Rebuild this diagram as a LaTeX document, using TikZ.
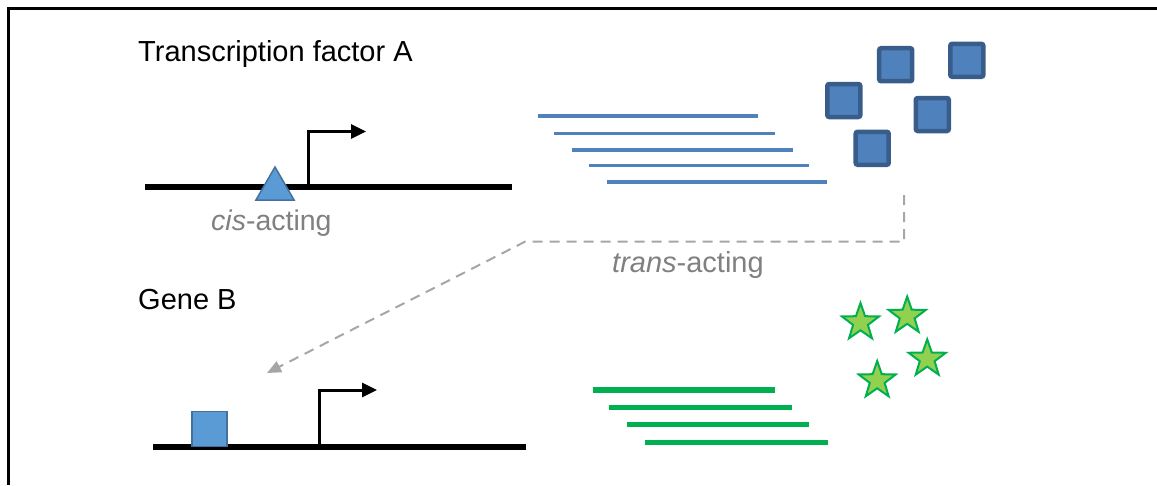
\documentclass[tikz,border=0pt]{standalone}
\usepackage{fontspec}
\setmainfont{Liberation Sans}
\usetikzlibrary{arrows.meta,shapes.geometric}
\definecolor{txtgray}{HTML}{808080}
\definecolor{dashgray}{HTML}{A6A6A6}
\definecolor{tfblue}{HTML}{4F81BD}
\definecolor{tfdark}{HTML}{385D8A}
\definecolor{litblue}{HTML}{5B9BD5}
\definecolor{litdark}{HTML}{41719C}
\definecolor{gnline}{HTML}{00B050}
\definecolor{gnfill}{HTML}{92D050}
\tikzset{
  label/.style={anchor=base west,inner sep=0pt,font=\fontsize{29}{34}\selectfont},
  graylabel/.style={label,text=txtgray},
  geneline/.style={line width=6pt,black},
  promoter/.style={line width=3pt,black,-{Triangle[length=15pt,width=14pt]}},
  mrnablue/.style={line width=3.2pt,tfblue},
  mrnagreen/.style={line width=5.5pt,gnline},
  protsq/.style={draw=tfdark,fill=tfblue,line width=4.5pt,minimum size=33pt,inner sep=0pt,rounded corners=2pt},
  protstar/.style={star,star points=5,star point ratio=2.5,draw=gnline,fill=gnfill,line width=2pt,minimum size=39pt,inner sep=0pt},
  bindsq/.style={draw=litdark,fill=litblue,line width=1.5pt,minimum size=35pt,inner sep=0pt},
  bindtri/.style={isosceles triangle,isosceles triangle apex angle=60,shape border rotate=90,draw=litdark,fill=litblue,line width=1.5pt,minimum height=33pt,inner sep=0pt},
  transarrow/.style={dashgray,line width=2pt,dash pattern=on 10pt off 7pt,-{Triangle[length=14pt,width=12pt]}}
}
\begin{document}
\begin{tikzpicture}[x=1pt,y=-1pt]
\useasboundingbox (0,0) rectangle (1157,485);
% frame
\draw[line width=3pt] (8.5,485) -- (8.5,8.5) -- (1157,8.5);

% labels
\node[label] (tfA) at (138,61) {Transcription factor A};
\node[label] (geneB) at (138,309) {Gene B};
\node[graylabel,font=\fontsize{28.5}{34}\selectfont] (cis) at (211,230) {\textit{cis}-acting};
\node[graylabel] (trans) at (612,272) {\textit{trans}-acting};

% top gene
\coordinate (g1a) at (145,187);
\coordinate (g1b) at (512,187);
\draw[geneline] (g1a) -- (g1b);
\node[bindtri] (tri) at (275,189) {};
\coordinate (p1a) at (308,187);
\coordinate (p1b) at (308,131.5);
\coordinate (p1c) at (366,131.5);
\draw[promoter] (p1a) -- (p1b) -- (p1c);

% bottom gene
\coordinate (g2a) at (153,447);
\coordinate (g2b) at (526,447);
\draw[geneline] (g2a) -- (g2b);
\node[bindsq,anchor=south] (sq) at (209.7,447) {};
\coordinate (p2a) at (319,447);
\coordinate (p2b) at (319,390);
\coordinate (p2c) at (377,390);
\draw[promoter] (p2a) -- (p2b) -- (p2c);

% blue mRNAs
\foreach \xa/\xb/\yy [count=\i] in {538.3/758.3/116, 554.3/775/133.3, 572.3/793.3/150, 589/809.3/165.5, 606.7/827.3/182}{
  \coordinate (b\i a) at (\xa,\yy);
  \coordinate (b\i b) at (\xb,\yy);
  \draw[mrnablue] (b\i a) -- (b\i b);
}
% green mRNAs
\foreach \xa/\xb/\yy [count=\i] in {592.7/775/390, 609.3/791.7/407.7, 627.3/809.3/424.3, 645.3/827.7/442.3}{
  \coordinate (gr\i a) at (\xa,\yy);
  \coordinate (gr\i b) at (\xb,\yy);
  \draw[mrnagreen] (gr\i a) -- (gr\i b);
}

% proteins A (squares)
\node[protsq] (s1) at (895.7,64.7) {};
\node[protsq] (s2) at (966.8,60.3) {};
\node[protsq] (s3) at (843.8,100.5) {};
\node[protsq] (s4) at (932.3,114.5) {};
\node[protsq] (s5) at (872.2,148.3) {};

% proteins B (stars)
\node[protstar] (st1) at (860.5,322.5) {};
\node[protstar] (st2) at (907.2,316) {};
\node[protstar] (st3) at (927.2,358.8) {};
\node[protstar] (st4) at (877.2,380.5) {};

% trans-acting dashed arrow
\coordinate (d0) at (904,195);
\coordinate (d1) at (904,241.7);
\coordinate (d2) at (525,241.7);
\coordinate (d3) at (267,373);
\draw[transarrow] (d0) -- (d1) -- (d2) -- (d3);
\end{tikzpicture}
\end{document}
